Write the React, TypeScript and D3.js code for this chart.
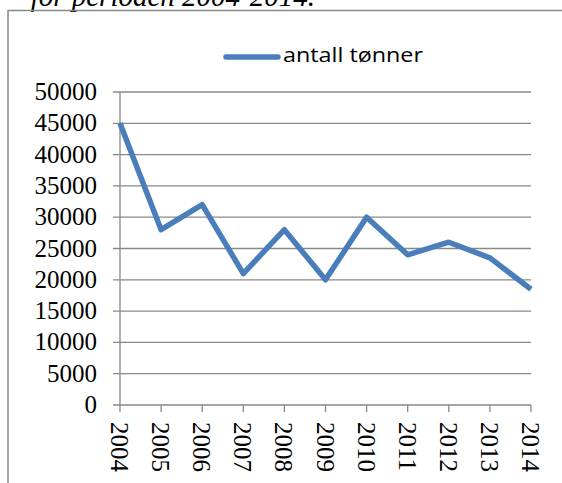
import { useEffect, useRef } from 'react';
import * as d3 from 'd3';

const years = ['2004', '2005', '2006', '2007', '2008', '2009', '2010', '2011', '2012', '2013', '2014'];
const tonnes = [45000, 28000, 32000, 21000, 28000, 20000, 30000, 24000, 26000, 23500, 18500];
const yTicks = [0, 5000, 10000, 15000, 20000, 25000, 30000, 35000, 40000, 45000, 50000];
const seriesName = 'antall tønner';
const caption = 'for perioden 2004-2014.';

const serif = '"Liberation Serif", "Times New Roman", serif';

const App = () => {
    const ref = useRef<SVGSVGElement>(null);

    useEffect(() => {
        const svg = d3.select(ref.current);
        svg.selectAll('*').remove();

        const x = d3.scalePoint().domain(years).range([120, 531]);
        const y = d3.scaleLinear().domain([0, 50000]).range([405, 92]);

        // caption of the document, cut by the top edge
        svg.append('text')
            .attr('x', 315)
            .attr('y', 6)
            .attr('text-anchor', 'end')
            .style('font-family', serif)
            .style('font-style', 'italic')
            .style('font-size', '29px')
            .text(caption);

        // chart border
        svg.append('rect')
            .attr('x', 8)
            .attr('y', 10.5)
            .attr('width', 600)
            .attr('height', 520)
            .attr('fill', 'none')
            .attr('stroke', '#888')
            .attr('stroke-width', 1.5);

        // gridlines + y labels
        const grid = svg.append('g');
        grid.selectAll('line')
            .data(yTicks)
            .enter().append('line')
            .attr('x1', 113)
            .attr('x2', 531)
            .attr('y1', (d: number) => y(d))
            .attr('y2', (d: number) => y(d))
            .attr('stroke', '#888')
            .attr('stroke-width', 1.3);

        grid.selectAll('text')
            .data(yTicks)
            .enter().append('text')
            .attr('x', 97)
            .attr('y', (d: number) => y(d) + 8)
            .attr('text-anchor', 'end')
            .style('font-family', serif)
            .style('font-size', '25px')
            .text((d: number) => String(d));

        // y axis line
        svg.append('line')
            .attr('x1', 120).attr('x2', 120)
            .attr('y1', y(50000)).attr('y2', y(0))
            .attr('stroke', '#888')
            .attr('stroke-width', 1.3);

        // x ticks and labels
        const xg = svg.append('g');
        xg.selectAll('line')
            .data(years)
            .enter().append('line')
            .attr('x1', (d: string) => x(d))
            .attr('x2', (d: string) => x(d))
            .attr('y1', y(0))
            .attr('y2', y(0) + 7)
            .attr('stroke', '#888')
            .attr('stroke-width', 1.3);

        xg.selectAll('text')
            .data(years)
            .enter().append('text')
            .attr('transform', (d: string) => 'translate(' + ((x(d) as number) - 9) + ',' + 422 + ') rotate(90)')
            .style('font-family', serif)
            .style('font-size', '25px')
            .text((d: string) => d);

        // series line
        const line = d3.line<number>()
            .x((d, i) => x(years[i]) as number)
            .y((d) => y(d));

        svg.append('path')
            .datum(tonnes)
            .attr('d', line)
            .attr('fill', 'none')
            .attr('stroke', '#4A7EBB')
            .attr('stroke-width', 5.5)
            .attr('stroke-linejoin', 'round');

        // legend
        svg.append('line')
            .attr('x1', 226).attr('x2', 278)
            .attr('y1', 57).attr('y2', 57)
            .attr('stroke', '#4A7EBB')
            .attr('stroke-width', 5.5)
            .attr('stroke-linecap', 'round');
        svg.append('text')
            .attr('x', 283)
            .attr('y', 62)
            .attr('textLength', 140)
            .attr('lengthAdjust', 'spacingAndGlyphs')
            .style('font-family', '"Open Sans", sans-serif')
            .style('font-size', '20px')
            .text(seriesName);
    }, []);

    return (
        <svg ref={ref} width={562} height={483}
            style={{ position: 'absolute', left: 0, top: 0, background: '#fff' }} />
    );
};

export default App;
